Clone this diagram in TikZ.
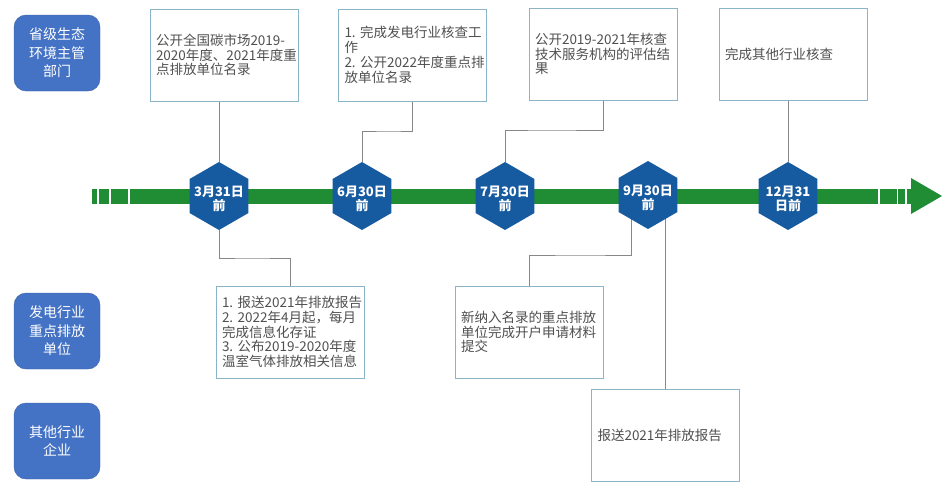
\documentclass[tikz,border=0pt]{standalone}
\usepackage{fontspec}
\newfontfamily\cjk{Noto Sans CJK SC}
\usetikzlibrary{shapes.geometric, backgrounds}
\definecolor{rolebg}{RGB}{68,114,196}
\definecolor{hexbg}{RGB}{22,90,160}
\definecolor{barbg}{RGB}{32,140,52}
\definecolor{frame}{RGB}{140,180,200}
\definecolor{ink}{RGB}{80,80,80}
\definecolor{wire}{RGB}{135,135,135}

\begin{document}
\begin{tikzpicture}[x=1pt, y=-1pt,
    role/.style={draw=rolebg!85!black, fill=rolebg, rounded corners=12pt, minimum width=86pt,
        minimum height=76pt, inner sep=0pt, align=center, text=white,
        font=\cjk\fontsize{14}{18.5}\selectfont},
    datetext/.style={align=center, text=white, yshift=-3pt,
        font=\cjk\bfseries\fontsize{13}{14.5}\selectfont},
    date/.style={regular polygon, regular polygon sides=6, shape border rotate=30,
        minimum size=68pt, inner sep=0pt, fill=hexbg, label={[datetext]center:{#1}}},
    note/.style={draw=frame, fill=white, line width=0.8pt, text width=136pt, inner xsep=6pt,
        minimum height=92pt, align=left, text=ink, font=\cjk\fontsize{13.5}{14.8}\selectfont},
    link/.style={draw=wire, line width=0.8pt}]

    \useasboundingbox (0,0) rectangle (947,498);

    \node[role] (gov) at (57,53) {省级生态\\环境主管\\部门};
    \node[role] (power) at (57,331) {发电行业\\重点排放\\单位};
    \node[role] (other) at (57,441) {其他行业\\企业};

    \fill[barbg] (130,188.5) rectangle (878,203.5);
    \foreach \a/\b in {92/96.5, 98.5/108.5, 110.5/127.5, 880/896.5, 898/905, 906.5/911}
        \fill[barbg] (\a,188.5) rectangle (\b,203.5);
    \fill[barbg] (911,178) -- (942,196) -- (911,214) -- cycle;

    \node[date={3月31日\\前}] (h1) at (219,196) {};
    \node[date={6月30日\\前}] (h2) at (362,196) {};
    \node[date={7月30日\\前}] (h3) at (505,196) {};
    \node[date={9月30日\\前}] (h4) at (648,195) {};
    \node[date={12月31\\日前}] (h5) at (788,196) {};

    \node[note] (n1) at (224,55) {公开全国碳市场2019-\\2020年度、2021年度重\\点排放单位名录};
    \node[note] (n2) at (412.5,55) {1.~完成发电行业核查工\\作\\2.~公开2022年度重点排\\放单位名录};
    \node[note] (n3) at (603,54) {公开2019-2021年核查\\技术服务机构的评估结\\果};
    \node[note] (n4) at (793,54) {完成其他行业核查};
    \node[note] (n5) at (290,332) {1.~报送2021年排放报告\\2.~2022年4月起，每月\\完成信息化存证\\3.~公布2019-2020年度\\温室气体排放相关信息};
    \node[note] (n6) at (529,332) {新纳入名录的重点排放\\单位完成开户申请材料\\提交};
    \node[note] (n7) at (665.5,435.5) {报送2021年排放报告};

    \coordinate (k2) at (390,131);
    \coordinate (k3) at (550,130);
    \coordinate (k5) at (250,258);
    \coordinate (k6) at (580,255);

    \begin{scope}[on background layer]
        \draw[link] (h1.north) -- (h1.north |- n1.south);
        \draw[link] (n2.south) |- (k2) -| (h2.north);
        \draw[link] (n3.south) |- (k3) -| (h3.north);
        \draw[link] (h5.north) -- (h5.north |- n4.south);
        \draw[link] (h1.south) |- (k5) -| (n5.north);
        \draw[link] ([xshift=-17pt]h4.center) |- (k6) -| (n6.north);
        \draw[link] (n7.north |- h4.center) -- (n7.north);
    \end{scope}

\end{tikzpicture}
\end{document}
